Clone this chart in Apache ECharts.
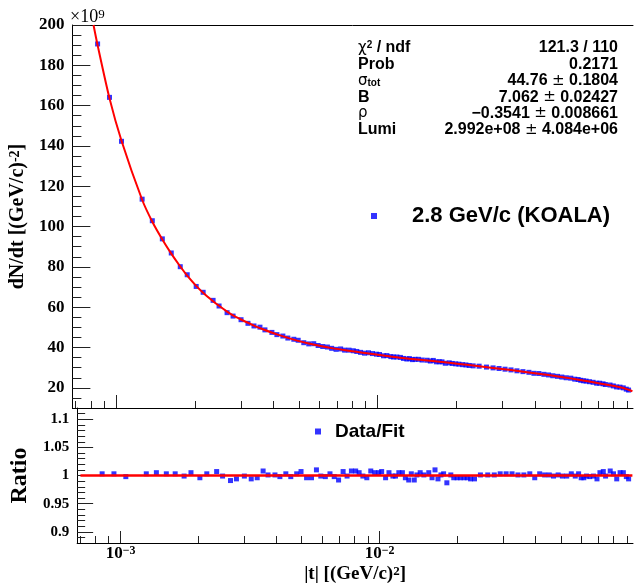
<!DOCTYPE html>
<html>
<head>
<meta charset="utf-8">
<script src="https://cdn.jsdelivr.net/npm/echarts@6/dist/echarts.min.js"></script>
<style>
  html, body { margin: 0; padding: 0; background: #fff; }
  #chart { width: 636px; height: 585px; }
</style>
</head>
<body>
<div id="chart"></div>
<script>
// |t| of each bin, (GeV/c)^2
const tValues = [
  8.49e-4, 9.43e-4, 1.048e-3, 1.257e-3, 1.375e-3, 1.502e-3, 1.625e-3, 1.759e-3, 1.870e-3, 2.024e-3,
  2.152e-3, 2.349e-3, 2.476e-3, 2.657e-3, 2.801e-3, 3.005e-3, 3.194e-3, 3.368e-3, 3.550e-3, 3.709e-3,
  3.944e-3, 4.121e-3, 4.344e-3, 4.539e-3, 4.784e-3, 4.972e-3, 5.223e-3, 5.458e-3, 5.702e-3, 5.927e-3,
  6.171e-3, 6.431e-3, 6.678e-3, 6.941e-3, 7.227e-3, 7.486e-3, 7.780e-3, 8.080e-3, 8.332e-3, 8.615e-3,
  8.923e-3, 9.241e-3, 9.571e-3, 9.913e-3, 1.0178e-2, 1.0542e-2, 1.0862e-2, 1.1250e-2, 1.1510e-2, 1.1859e-2,
  1.2240e-2, 1.2567e-2, 1.2948e-2, 1.3247e-2, 1.3600e-2, 1.3926e-2, 1.4335e-2, 1.4809e-2, 1.5474e-2, 1.5928e-2,
  1.6353e-2, 1.6790e-2, 1.7238e-2, 1.7651e-2, 1.8169e-2, 1.8818e-2, 1.9320e-2, 1.9905e-2, 2.0490e-2, 2.1167e-2,
  2.1789e-2, 2.2430e-2, 2.3230e-2, 2.4485e-2, 2.6128e-2, 2.7688e-2, 2.9185e-2, 3.0762e-2, 3.2424e-2, 3.4176e-2,
  3.6025e-2, 3.7970e-2, 3.9675e-2, 4.1456e-2, 4.3316e-2, 4.5142e-2, 4.6879e-2, 4.8853e-2, 5.0731e-2, 5.2730e-2,
  5.4903e-2, 5.6864e-2, 5.8585e-2, 5.9937e-2, 6.1376e-2, 6.2848e-2, 6.4697e-2, 6.6834e-2, 6.8980e-2, 7.0822e-2,
  7.2967e-2, 7.4456e-2, 7.7591e-2, 7.9869e-2, 8.2217e-2, 8.4708e-2, 8.7198e-2, 8.9536e-2, 9.1363e-2
]
// dN/dt in units of 1e9
const dndtValues = [
  190.6, 164.1, 142.3, 113.6, 102.9, 93.9, 86.9, 80.1, 76.1, 70.3,
  67.4, 63.4, 60.6, 57.3, 55.6, 53.8, 52.0, 50.7, 50.1, 48.75,
  47.5, 46.4, 45.7, 44.7, 44.1, 43.6, 42.4, 41.8, 41.9, 41.0,
  40.5, 40.25, 39.6, 39.1, 39.3, 38.7, 38.7, 38.4, 38.05, 37.6,
  37.2, 37.4, 37.0, 36.7, 36.55, 35.9, 36.0, 35.5, 35.3, 35.3,
  35.1, 34.6, 34.3, 34.5, 34.0, 34.15, 34.15, 33.8, 33.7, 33.3,
  33.6, 32.9, 32.95, 32.9, 32.2, 32.4, 32.1, 31.9, 31.75, 31.5,
  31.35, 31.1, 30.9, 30.75, 30.3, 29.9, 29.6, 29.25, 28.9, 28.45,
  28.05, 27.7, 27.2, 27.1, 26.7, 26.4, 26.0, 25.7, 25.35, 25.0,
  24.8, 24.3, 24.15, 23.75, 23.5, 23.35, 23.05, 22.75, 22.3, 22.3,
  22.0, 21.65, 21.4, 20.95, 20.45, 20.35, 20.0, 19.35, 18.9
]
// Data/Fit
const ratioValues = [
  1.003, 1.003, 0.998, 1.003, 1.005, 1.003, 1.003, 0.999, 1.005, 0.996,
  1.003, 1.007, 0.999, 0.991, 0.994, 0.999, 0.994, 0.996, 1.008, 1.001,
  1.001, 0.998, 1.003, 0.998, 1.003, 1.007, 0.996, 0.996, 1.010, 0.999,
  0.998, 1.003, 0.998, 0.992, 1.007, 0.999, 1.008, 1.008, 1.005, 0.999,
  0.996, 1.008, 1.005, 1.005, 1.007, 0.996, 1.005, 0.999, 0.999, 1.005,
  1.005, 0.996, 0.992, 1.003, 0.992, 1.001, 1.005, 1.001, 1.005, 0.996,
  1.010, 0.994, 1.001, 1.003, 0.987, 1.001, 0.996, 0.996, 0.996, 0.996,
  0.996, 0.994, 0.994, 1.001, 1.001, 1.001, 1.003, 1.003, 1.003, 1.001,
  1.001, 1.003, 0.996, 1.003, 1.001, 1.001, 0.999, 1.001, 0.999, 0.999,
  1.003, 0.999, 1.003, 0.996, 0.996, 0.999, 0.998, 0.999, 0.994, 1.005,
  1.007, 0.999, 1.008, 1.003, 0.994, 1.005, 1.005, 0.998, 0.994
]
// fit curve
const fitT = [
  8.19e-4, 8.49e-4, 9.43e-4, 1.048e-3, 1.257e-3, 1.375e-3, 1.502e-3, 1.625e-3, 1.759e-3, 1.870e-3,
  2.024e-3, 2.152e-3, 2.349e-3, 2.476e-3, 2.657e-3, 2.801e-3, 3.005e-3, 3.368e-3, 3.709e-3, 4.121e-3,
  4.539e-3, 4.972e-3, 5.458e-3, 6.678e-3, 8.080e-3, 9.571e-3, 1.125e-2, 1.3247e-2, 1.5928e-2, 1.8818e-2,
  2.243e-2, 2.7688e-2, 3.2424e-2, 3.797e-2, 4.5142e-2, 5.4903e-2, 6.4697e-2, 7.7591e-2, 8.7198e-2, 9.45e-2
]
const fitValues = [
  200, 190.0, 163.6, 142.6, 113.3, 102.4, 93.6, 86.6, 80.2, 75.7,
  70.6, 67.2, 63.0, 60.7, 57.8, 55.9, 53.9, 50.9, 48.7, 46.5,
  44.8, 43.3, 42.0, 39.7, 38.1, 36.8, 35.5, 34.4, 33.4, 32.4,
  31.3, 29.9, 28.8, 27.65, 26.35, 24.7, 23.1, 21.25, 19.9, 18.3
]
const ratioLineT = [7e-4, 9.45e-2]
const ratioLineValues = [1, 1]

// ticks
const xMajorTicks = [0.001, 0.01]
const xMinorTicks = [0.0007, 0.0008, 0.0009, 0.002, 0.003, 0.004, 0.005, 0.006, 0.007, 0.008, 0.009,
  0.02, 0.03, 0.04, 0.05, 0.06, 0.07, 0.08, 0.09]
const yMajorTicks = [20, 40, 60, 80, 100, 120, 140, 160, 180, 200]
const yMinorTicks = [15, 25, 30, 35, 45, 50, 55, 65, 70, 75, 85, 90, 95, 105, 110, 115, 125, 130, 135,
  145, 150, 155, 165, 170, 175, 185, 190, 195]
const ratioMajorTicks = [0.9, 0.95, 1, 1.05, 1.1]
const ratioMinorTicks = [0.89, 0.91, 0.92, 0.93, 0.94, 0.96, 0.97, 0.98, 0.99, 1.01, 1.02, 1.03, 1.04,
  1.06, 1.07, 1.08, 1.09, 1.11]

// stats box
const statNames = ['{g|χ}{sup|2} / ndf', 'Prob', '{g|σ}{sub|tot}', 'B', '{g|ρ}', 'Lumi']
const statValues = ['121.3 / 110', '0.2171', '44.76 {pm|±} 0.1804', '7.062 {pm|±} 0.02427',
  '−0.3541 {pm|±} 0.008661', '2.992e+08 {pm|±} 4.084e+06']

const xMin = 6.8e-4
const xMax = 0.095
const serif = 'Liberation Serif'
const sans = 'Liberation Sans'
const tickStyle = { color: '#222', width: 1 }

const chart = echarts.init(document.getElementById('chart'))

const logX = (grid, extra) => Object.assign({
  type: 'log',
  logBase: 10,
  gridIndex: grid,
  min: xMin,
  max: xMax,
  position: 'bottom',
  splitLine: { show: false },
  axisLabel: { show: false },
  axisLine: { show: false }
}, extra)

const valY = (grid, min, max, extra) => Object.assign({
  type: 'value',
  gridIndex: grid,
  min: min,
  max: max,
  position: 'left',
  splitLine: { show: false },
  axisLabel: { show: false },
  axisLine: { show: false }
}, extra)

// superscript styles for serif axis texts
const supRich = (base, sup) => ({
  b: { fontFamily: serif, fontWeight: 'bold', fontSize: base, color: '#000' },
  sup: { fontFamily: serif, fontWeight: 'bold', fontSize: sup, color: '#000', verticalAlign: 'top', padding: [0, 0, 4, 0] }
})

const option = {
  animation: false,
  backgroundColor: '#fff',
  grid: [
    { left: 71, top: 25, width: 562, height: 383 },
    { left: 71, top: 408, width: 562, height: 136 }
  ],
  legend: [
    {
      data: [{ name: '2.8 GeV/c (KOALA)', icon: 'rect' }],
      left: 371, top: 205,
      padding: 0,
      itemWidth: 6, itemHeight: 6,
      selectedMode: false,
      textStyle: { fontFamily: sans, fontWeight: 'bold', fontSize: 22, color: '#000', padding: [0, 0, 0, 30] }
    },
    {
      data: [{ name: 'Data/Fit', icon: 'rect' }],
      left: 315, top: 422,
      padding: 0,
      itemWidth: 6, itemHeight: 6,
      selectedMode: false,
      textStyle: { fontFamily: sans, fontWeight: 'bold', fontSize: 19, color: '#000', padding: [0, 0, 0, 9] }
    }
  ],
  xAxis: [
    logX(0, {
      axisLine: { show: true, lineStyle: { color: '#000', width: 1 } },
      axisTick: { inside: true, length: 13, customValues: xMajorTicks, lineStyle: tickStyle }
    }),
    logX(0, { axisTick: { inside: true, length: 7, customValues: xMinorTicks, lineStyle: tickStyle } }),
    logX(0, {
      position: 'top',
      axisLine: { show: true, lineStyle: { color: '#000', width: 1 } },
      axisTick: { show: false }
    }),
    logX(1, {
      axisLine: { show: true, lineStyle: { color: '#000', width: 1 } },
      axisTick: { inside: true, length: 12, customValues: xMajorTicks, lineStyle: tickStyle },
      axisLabel: {
        show: true,
        customValues: xMajorTicks,
        margin: 2,
        formatter: (v) => (v < 0.005 ? '{b|10}{sup|−3}' : '{b|10}{sup|−2}'),
        rich: supRich(17, 12)
      },
      name: '{b||t| [(GeV/c)}{sup|2}{b|]}',
      nameLocation: 'middle',
      nameGap: 22,
      nameTextStyle: { rich: supRich(19, 13) }
    }),
    logX(1, { axisTick: { inside: true, length: 7, customValues: xMinorTicks, lineStyle: tickStyle } })
  ],
  yAxis: [
    valY(0, 10, 200, {
      axisLine: { show: true, lineStyle: { color: '#000', width: 1 } },
      axisTick: { inside: true, length: 18, customValues: yMajorTicks, lineStyle: tickStyle },
      axisLabel: {
        show: true, customValues: yMajorTicks, margin: 8,
        fontFamily: serif, fontWeight: 'bold', fontSize: 17, color: '#000'
      },
      name: '{b|dN/dt [(GeV/c)}{sup|-2}{b|]}',
      nameLocation: 'middle',
      nameRotate: 90,
      nameGap: 40,
      nameTextStyle: { rich: supRich(20, 14) }
    }),
    valY(0, 10, 200, { axisTick: { inside: true, length: 9, customValues: yMinorTicks, lineStyle: tickStyle } }),
    valY(1, 0.88, 1.12, {
      axisLine: { show: true, lineStyle: { color: '#000', width: 1 } },
      axisTick: { inside: true, length: 16, customValues: ratioMajorTicks, lineStyle: tickStyle },
      axisLabel: {
        show: true, customValues: ratioMajorTicks, margin: 8,
        fontFamily: serif, fontWeight: 'bold', fontSize: 15, color: '#000'
      },
      name: 'Ratio',
      nameLocation: 'middle',
      nameRotate: 90,
      nameGap: 35,
      nameTextStyle: { fontFamily: serif, fontWeight: 'bold', fontSize: 24, color: '#000' }
    }),
    valY(1, 0.88, 1.12, { axisTick: { inside: true, length: 8, customValues: ratioMinorTicks, lineStyle: tickStyle } })
  ],
  series: [
    {
      name: '2.8 GeV/c (KOALA)',
      type: 'scatter',
      xAxisIndex: 0, yAxisIndex: 0,
      symbol: 'rect', symbolSize: 5,
      itemStyle: { color: '#0000ff' },
      data: tValues.map((t, i) => [t, dndtValues[i]]),
      z: 2
    },
    {
      name: 'fit',
      type: 'line',
      xAxisIndex: 0, yAxisIndex: 0,
      showSymbol: false,
      smooth: 0.25,
      lineStyle: { color: '#ff0000', width: 2 },
      itemStyle: { color: '#ff0000' },
      data: fitT.map((t, i) => [t, fitValues[i]]),
      z: 3
    },
    {
      name: 'Data/Fit',
      type: 'scatter',
      xAxisIndex: 3, yAxisIndex: 2,
      symbol: 'rect', symbolSize: 5,
      itemStyle: { color: '#0000ff' },
      data: tValues.map((t, i) => [t, ratioValues[i]]),
      z: 2
    },
    {
      name: 'one',
      type: 'line',
      xAxisIndex: 3, yAxisIndex: 2,
      showSymbol: false,
      lineStyle: { color: '#ff0000', width: 2.5 },
      itemStyle: { color: '#ff0000' },
      data: ratioLineT.map((t, i) => [t, ratioLineValues[i]]),
      z: 3
    }
  ],
  graphic: [
    {
      type: 'text', x: 70, y: 26,
      style: {
        text: '{b|×10}{s|9}', fill: '#000',
        align: 'left', verticalAlign: 'bottom',
        rich: {
          b: { fontFamily: serif, fontSize: 18, color: '#000' },
          s: { fontFamily: serif, fontSize: 13, color: '#000', verticalAlign: 'top', padding: [0, 0, 5, 0] }
        }
      }
    }
  ].concat(statNames.map((n, i) => ({
    type: 'text', x: 358, y: 48 + i * 16.4,
    style: {
      text: n, fill: '#000', fontFamily: sans, fontWeight: 'bold', fontSize: 16,
      align: 'left', verticalAlign: 'middle',
      rich: {
        g: { fontFamily: 'DejaVu Sans', fontWeight: 'normal', fontSize: 15 },
        sup: { fontFamily: sans, fontWeight: 'bold', fontSize: 10, verticalAlign: 'top' },
        sub: { fontFamily: sans, fontWeight: 'bold', fontSize: 10, verticalAlign: 'bottom' }
      }
    }
  }))).concat(statValues.map((v, i) => ({
    type: 'text', x: 618, y: 48 + i * 16.4,
    style: {
      text: v, fill: '#000', fontFamily: sans, fontWeight: 'bold', fontSize: 16,
      align: 'right', verticalAlign: 'middle',
      rich: { pm: { fontFamily: 'DejaVu Sans', fontWeight: 'normal', fontSize: 15 } }
    }
  })))
}

chart.setOption(option)
</script>
</body>
</html>
